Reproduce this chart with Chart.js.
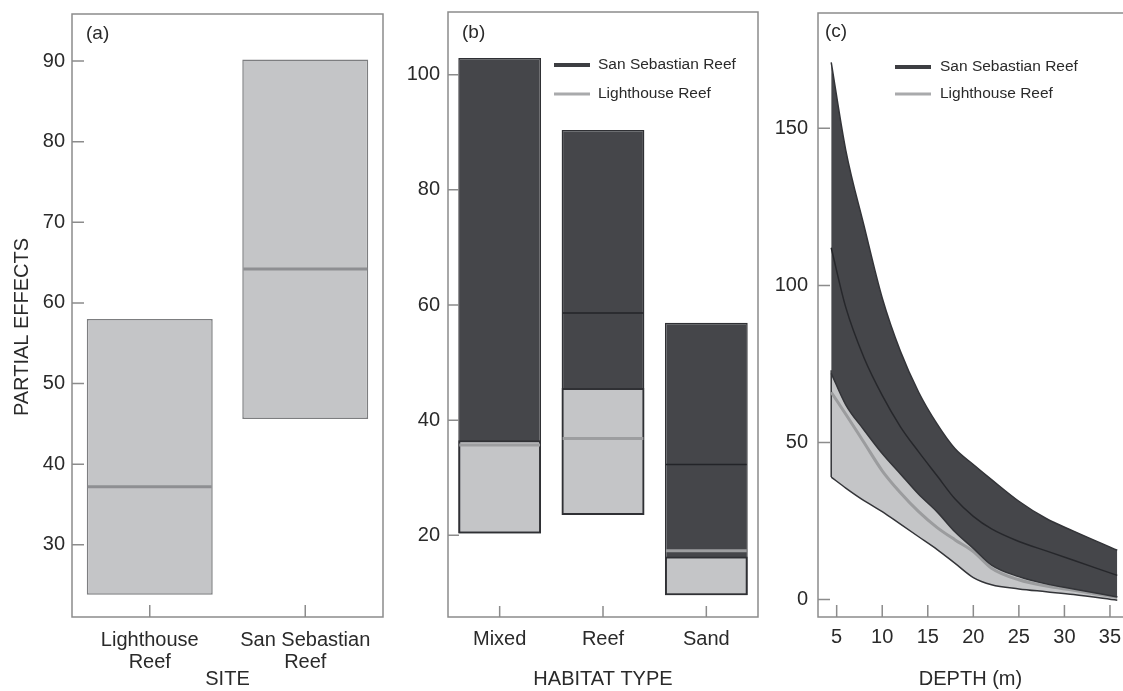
<!DOCTYPE html>
<html>
<head>
<meta charset="utf-8">
<script src="https://cdn.jsdelivr.net/npm/chart.js@4.4.1/dist/chart.umd.min.js"></script>
<style>
  html, body { margin: 0; padding: 0; background: #fff; }
  body { width: 1123px; height: 691px; position: relative; overflow: hidden; }
  canvas { position: absolute; top: 0; }
</style>
</head>
<body>
<canvas id="chart-site" width="400" height="691" style="left:0"></canvas>
<canvas id="chart-habitat" width="380" height="691" style="left:390px"></canvas>
<canvas id="chart-depth" width="363" height="691" style="left:760px"></canvas>
<script>
// ============================================================
// DATOS
// ============================================================
// (a) SITE
const siteLabels = [['Lighthouse', 'Reef'], ['San Sebastian', 'Reef']];
const siteLow    = [23.8, 45.6];
const siteHigh   = [58.0, 90.2];
const siteMid    = [37.2, 64.2];
const siteTicks  = [30, 40, 50, 60, 70, 80, 90];

// (b) HABITAT TYPE
const habitatLabels = ['Mixed', 'Reef', 'Sand'];
const ssHabLow   = [20.3, 23.5, 9.6];
const ssHabHigh  = [102.9, 90.4, 56.9];
const ssHabMid   = [null, 58.6, 32.3];
const lhHabLow   = [20.3, 23.5, 9.6];
const lhHabHigh  = [36.5, 45.6, 16.3];
const lhHabMid   = [35.7, 36.8, 17.3];
const habitatTicks = [20, 40, 60, 80, 100];

// (c) DEPTH (m)
const depth   = [4.4, 6, 8, 10, 12, 14, 16, 18, 20, 22, 25, 28, 31, 35.8];
const ssUpper = [171, 143, 119, 96, 79, 66, 56, 48, 43, 38.2, 31.3, 25.8, 21.8, 15.7];
const ssMean  = [112, 93, 77, 65, 55, 47, 39.5, 32, 26.5, 22.5, 18.5, 15.5, 12.5, 7.7];
const ssLower = [72, 62, 54, 46.5, 40, 33.5, 28, 21.5, 16.3, 11, 7.3, 5, 3.4, 0.8];
const lhUpper = [73, 63, 55, 47.5, 41, 34.5, 29, 22.5, 17, 12, 8, 5.5, 4, 1.2];
const lhMean  = [66, 59, 50, 41, 34, 28, 23, 19, 15.3, 10, 6.3, 4.3, 3, 0.7];
const lhLower = [39, 35.5, 31.5, 28, 24, 20, 16, 11.5, 7, 4.7, 3.4, 2.5, 1.6, -0.2];
const depthTicks  = [5, 10, 15, 20, 25, 30, 35];
const effectTicks = [0, 50, 100, 150];

const legendNames = ['San Sebastian Reef', 'Lighthouse Reef'];

// ============================================================
// ESTILO
// ============================================================
const DARK  = '#45464a';
const LIGHT = '#c4c5c7';
const FRAME = '#8c8c8c';
const TEXT  = '#2a2a2a';
const FONT  = '"Liberation Sans", Arial, sans-serif';

Chart.defaults.font.family = FONT;
Chart.defaults.color = TEXT;
Chart.defaults.animation = false;

// marco, ticks hacia dentro, medianas, leyenda y etiquetas
const panelPlugin = {
    id: 'panel',
    afterDatasetsDraw(chart) {
        const ctx = chart.ctx;
        const yScale = chart.scales.y;
        chart.data.datasets.forEach((ds, i) => {
            if (!ds.mid) return;
            const meta = chart.getDatasetMeta(i);
            ctx.save();
            ctx.strokeStyle = ds.midColor;
            ctx.lineWidth = ds.midWidth;
            meta.data.forEach((bar, j) => {
                const m = ds.mid[j];
                if (m == null) return;
                const { x, width } = bar.getProps(['x', 'width'], true);
                const y = yScale.getPixelForValue(m);
                ctx.beginPath();
                ctx.moveTo(x - width / 2 + 1, y);
                ctx.lineTo(x + width / 2 - 1, y);
                ctx.stroke();
            });
            ctx.restore();
        });
    },
    afterDraw(chart, args, opts) {
        const { ctx, chartArea: a, scales } = chart;
        ctx.save();
        ctx.strokeStyle = FRAME;
        ctx.lineWidth = 1.5;
        ctx.beginPath();
        if (opts.openRight) {
            ctx.moveTo(a.right, a.top); ctx.lineTo(a.left, a.top);
            ctx.lineTo(a.left, a.bottom); ctx.lineTo(a.right, a.bottom);
        } else {
            ctx.rect(a.left, a.top, a.width, a.height);
        }
        ctx.stroke();

        ctx.beginPath();
        scales.y.ticks.forEach((t, i) => {
            const y = scales.y.getPixelForTick(i);
            ctx.moveTo(a.left, y); ctx.lineTo(a.left + opts.tickLen, y);
        });
        scales.x.ticks.forEach((t, i) => {
            const x = scales.x.getPixelForTick(i);
            ctx.moveTo(x, a.bottom); ctx.lineTo(x, a.bottom - opts.tickLen);
        });
        ctx.stroke();

        ctx.fillStyle = TEXT;
        ctx.textBaseline = 'middle';
        ctx.textAlign = 'left';
        ctx.font = '19px ' + FONT;
        ctx.fillText(opts.letter, a.left + opts.letterX, a.top + opts.letterY);

        if (opts.legend) {
            const lg = opts.legend;
            ctx.font = '15.5px ' + FONT;
            legendNames.forEach((name, i) => {
                const y = a.top + lg.y + i * lg.gap;
                const x = a.left + lg.x;
                ctx.strokeStyle = i === 0 ? '#3d3e42' : '#a9aaac';
                ctx.lineWidth = i === 0 ? 4 : 3;
                ctx.beginPath(); ctx.moveTo(x, y); ctx.lineTo(x + 36, y); ctx.stroke();
                ctx.fillText(name, x + lg.textDx, y);
            });
        }

        if (opts.yTitle) {
            ctx.save();
            ctx.font = '20px ' + FONT;
            ctx.textAlign = 'center';
            ctx.translate(opts.yTitle.x, opts.yTitle.y);
            ctx.rotate(-Math.PI / 2);
            ctx.fillText(opts.yTitle.text, 0, 0);
            ctx.restore();
        }
        ctx.restore();
    }
};

function yAxis(min, max, tickValues, width, pad) {
    return {
        type: 'linear', min, max,
        grid: { display: false, drawTicks: false },
        border: { display: false },
        afterBuildTicks: s => { s.ticks = tickValues.map(v => ({ value: v })); },
        afterFit: s => { s.width = width; s.paddingTop = 0; s.paddingBottom = 0; },
        ticks: { padding: pad, font: { size: 20 } }
    };
}

function xTitle(text) {
    return { display: true, text, font: { size: 20 }, padding: { top: 0, bottom: 0 } };
}

function fixX(s) { s.height = 74; s.paddingLeft = 0; s.paddingRight = 0; }

// ============================================================
// (a) SITE
// ============================================================
new Chart(document.getElementById('chart-site'), {
    type: 'bar',
    data: {
        labels: siteLabels,
        datasets: [{
            data: siteLow.map((lo, i) => [lo, siteHigh[i]]),
            backgroundColor: LIGHT,
            borderColor: '#7d7e80',
            borderWidth: 1.5,
            borderSkipped: false,
            barPercentage: 0.9,
            categoryPercentage: 0.9,
            mid: siteMid, midColor: '#8e8f92', midWidth: 3
        }]
    },
    plugins: [panelPlugin],
    options: {
        responsive: false,
        events: [],
        layout: { padding: { left: 0, top: 14, right: 17, bottom: 0 } },
        plugins: {
            legend: { display: false },
            tooltip: { enabled: false },
            panel: {
                tickLen: 12, letter: '(a)', letterX: 14, letterY: 20,
                yTitle: { text: 'PARTIAL EFFECTS', x: 22, y: 327 }
            }
        },
        scales: {
            x: {
                grid: { display: false, drawTicks: false },
                border: { display: false },
                afterFit: fixX,
                ticks: { padding: 12, maxRotation: 0, minRotation: 0, autoSkip: false,
                         font: { size: 20, lineHeight: 1.1 } },
                title: xTitle('SITE')
            },
            y: yAxis(21.04, 95.83, siteTicks, 72, 7)
        }
    }
});

// ============================================================
// (b) HABITAT TYPE
// ============================================================
new Chart(document.getElementById('chart-habitat'), {
    type: 'bar',
    data: {
        labels: habitatLabels,
        datasets: [{
            label: legendNames[0],
            data: ssHabLow.map((lo, i) => [lo, ssHabHigh[i]]),
            backgroundColor: DARK,
            borderColor: '#2f3034',
            borderWidth: 1.5,
            borderSkipped: false,
            grouped: false,
            order: 1,
            barPercentage: 0.89,
            categoryPercentage: 0.9,
            mid: ssHabMid, midColor: '#232428', midWidth: 1.5
        }, {
            label: legendNames[1],
            data: lhHabLow.map((lo, i) => [lo, lhHabHigh[i]]),
            backgroundColor: LIGHT,
            borderColor: '#2f3034',
            borderWidth: 2,
            borderSkipped: false,
            grouped: false,
            order: 0,
            barPercentage: 0.89,
            categoryPercentage: 0.9,
            mid: lhHabMid, midColor: '#9d9ea0', midWidth: 3
        }]
    },
    plugins: [panelPlugin],
    options: {
        responsive: false,
        events: [],
        layout: { padding: { left: 0, top: 12, right: 12, bottom: 0 } },
        plugins: {
            legend: { display: false },
            tooltip: { enabled: false },
            panel: {
                tickLen: 11, letter: '(b)', letterX: 14, letterY: 21,
                legend: { x: 106, y: 53, gap: 29, textDx: 44 }
            }
        },
        scales: {
            x: {
                grid: { display: false, drawTicks: false },
                border: { display: false },
                afterFit: fixX,
                ticks: { padding: 10, maxRotation: 0, minRotation: 0, autoSkip: false, font: { size: 20 } },
                title: xTitle('HABITAT TYPE')
            },
            y: yAxis(5.8, 110.9, habitatTicks, 58, 8)
        }
    }
});

// ============================================================
// (c) DEPTH
// ============================================================
const pts = arr => depth.map((d, i) => ({ x: d, y: arr[i] }));
const lineBase = { pointRadius: 0, cubicInterpolationMode: 'monotone', fill: false };

new Chart(document.getElementById('chart-depth'), {
    type: 'line',
    data: {
        datasets: [
            { ...lineBase, data: pts(ssMean),  borderColor: '#26272b', borderWidth: 1.5, order: 1 },
            { ...lineBase, data: pts(ssUpper), borderColor: '#333438', borderWidth: 1.5, order: 2,
              fill: '+1', backgroundColor: DARK },
            { ...lineBase, data: pts(ssLower), borderColor: '#333438', borderWidth: 1.5, order: 1.5 },
            { ...lineBase, data: pts(lhMean),  borderColor: '#9b9c9e', borderWidth: 3, order: 3 },
            { ...lineBase, data: pts(lhUpper), borderColor: LIGHT, borderWidth: 0, order: 5,
              fill: '+1', backgroundColor: LIGHT },
            { ...lineBase, data: pts(lhLower), borderColor: '#333438', borderWidth: 1.5, order: 4 },
            { pointRadius: 0, tension: 0, fill: false, borderColor: '#333438', borderWidth: 1.5, order: 4,
              data: [{ x: depth[0], y: lhLower[0] }, { x: depth[0], y: lhUpper[0] }] }
        ]
    },
    plugins: [panelPlugin],
    options: {
        responsive: false,
        events: [],
        layout: { padding: { left: 0, top: 13, right: 0, bottom: 0 } },
        plugins: {
            legend: { display: false },
            tooltip: { enabled: false },
            panel: {
                tickLen: 12, letter: '(c)', letterX: 7, letterY: 19, openRight: true,
                legend: { x: 77, y: 54, gap: 27, textDx: 45 }
            }
        },
        scales: {
            x: {
                type: 'linear', min: 2.95, max: 36.43,
                grid: { display: false, drawTicks: false },
                border: { display: false },
                afterBuildTicks: s => { s.ticks = depthTicks.map(v => ({ value: v })); },
                afterFit: fixX,
                ticks: { padding: 8, maxRotation: 0, autoSkip: false, font: { size: 20 } },
                title: xTitle('DEPTH (m)')
            },
            y: yAxis(-5.54, 186.7, effectTicks, 58, 10)
        }
    }
});
</script>
</body>
</html>
